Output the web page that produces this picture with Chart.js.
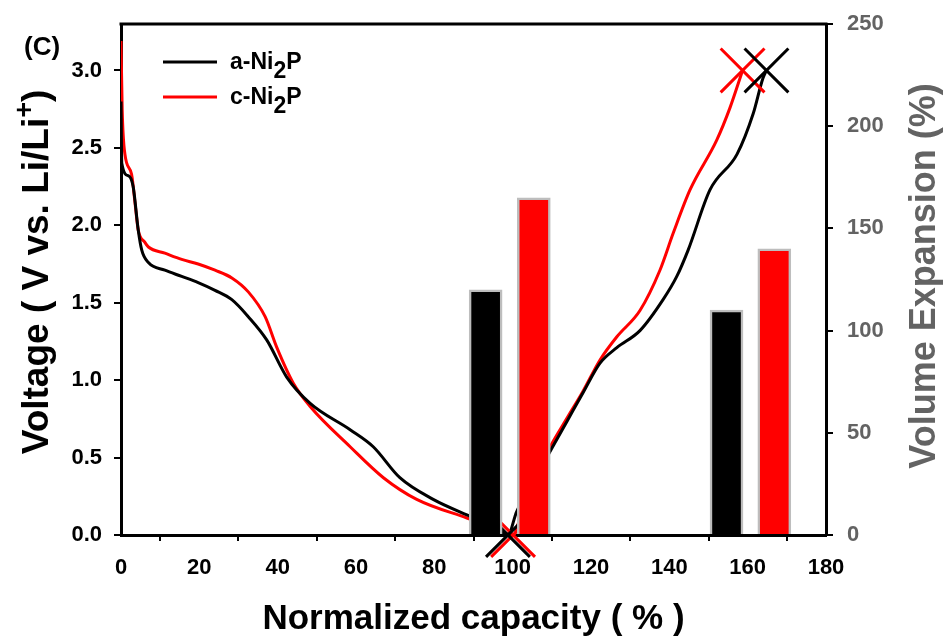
<!DOCTYPE html>
<html>
<head>
<meta charset="utf-8">
<script src="https://cdn.jsdelivr.net/npm/chart.js@4.4.0/dist/chart.umd.min.js"></script>
<style>
  body { margin: 0; background: #fff; }
  #wrap { width: 948px; height: 640px; }
</style>
</head>
<body>
<div id="wrap"><canvas id="voltageChart" width="948" height="640"></canvas></div>
<script>
// a-Ni2P : discharge then charge (normalized capacity %, voltage V)
var capA = [0, 0.2, 1.9, 3.1, 4.4, 5.3, 7, 11.2, 15.5, 19.7, 24, 28.3, 32.5, 37.2, 42.3, 48.3, 58.5, 64.4, 71.2, 79.7, 88.3, 95, 98.8,
            101, 105, 110, 114, 118, 122.3, 126.6, 132.5, 138.4, 141.9, 144.8, 150.4, 157.3, 161.4, 163.9, 164.8];
var voltA = [2.8, 2.40, 2.32, 2.25, 1.97, 1.84, 1.76, 1.71, 1.67, 1.63, 1.58, 1.52, 1.41, 1.26, 1.02, 0.85, 0.68, 0.57, 0.37, 0.23, 0.13, 0.06, 0.0,
             0.15, 0.33, 0.56, 0.74, 0.92, 1.11, 1.21, 1.32, 1.52, 1.67, 1.84, 2.23, 2.46, 2.72, 2.95, 3.0];

// c-Ni2P
var capC = [0, 0.3, 1, 2.7, 3.6, 4.4, 6.1, 7, 11.2, 15.5, 19.7, 24, 28.3, 32.5, 36.8, 39.8, 44, 48.3, 58.5, 67, 75.5, 88.3, 95, 100.1,
            102, 105, 110, 114, 118, 122.3, 126.6, 132.5, 137.6, 141, 145.3, 152.1, 155.5, 158.7];
var voltC = [3.19, 2.75, 2.46, 2.33, 2.14, 1.97, 1.89, 1.86, 1.82, 1.78, 1.75, 1.71, 1.66, 1.57, 1.41, 1.21, 0.98, 0.83, 0.57, 0.37, 0.23, 0.11, 0.05, 0.0,
             0.12, 0.35, 0.59, 0.76, 0.93, 1.13, 1.28, 1.45, 1.71, 1.95, 2.23, 2.55, 2.76, 3.0];

// end points marked with X
var endCapA = [98.8, 164.8];
var endVoltA = [0, 3.0];
var endCapC = [100.1, 158.7];
var endVoltC = [0, 3.0];

// volume expansion bars (%)
var barCapA = [93.1, 154.6];
var barExpA = [120, 110];
var barCapC = [105.4, 166.8];
var barExpC = [165, 140];

var xTicks = [0, 20, 40, 60, 80, 100, 120, 140, 160, 180];

function toPoints(xs, ys) {
    return xs.map(function (x, i) { return { x: x, y: ys[i] }; });
}

var FONT = "Arial, 'Liberation Sans', sans-serif";
var GREY = '#636363';

// rotated text reading bottom to top, centred on (cx, cy)
function drawUpText(ctx, parts, cx, cy) {
    ctx.save();
    ctx.translate(cx, cy);
    ctx.rotate(-Math.PI / 2);
    ctx.textBaseline = 'middle';
    ctx.textAlign = 'left';
    var total = 0;
    parts.forEach(function (p) { ctx.font = p.font; total += ctx.measureText(p.text).width; });
    var x = -total / 2;
    parts.forEach(function (p) {
        ctx.font = p.font;
        ctx.fillStyle = p.color;
        ctx.fillText(p.text, x, p.dy || 0);
        x += ctx.measureText(p.text).width;
    });
    ctx.restore();
}

var extrasPlugin = {
    id: 'extras',
    afterDraw: function (chart) {
        var ctx = chart.ctx;
        var area = chart.chartArea;
        ctx.save();

        // top frame line
        ctx.strokeStyle = '#000';
        ctx.lineWidth = 3;
        ctx.beginPath();
        ctx.moveTo(area.left - 1.5, area.top);
        ctx.lineTo(area.right + 1.5, area.top);
        ctx.stroke();

        // panel label
        ctx.fillStyle = '#000';
        ctx.font = 'bold 26px ' + FONT;
        ctx.textBaseline = 'alphabetic';
        ctx.textAlign = 'left';
        ctx.fillText('(C)', 24, 55);

        // legend
        var rows = [['a-Ni', '#000', 62], ['c-Ni', '#ff0000', 97]];
        rows.forEach(function (r) {
            ctx.strokeStyle = r[1];
            ctx.lineWidth = 3;
            ctx.beginPath();
            ctx.moveTo(163, r[2]);
            ctx.lineTo(217, r[2]);
            ctx.stroke();
            ctx.fillStyle = '#000';
            ctx.font = 'bold 23px ' + FONT;
            var x = 230;
            var base = r[2] + 7;
            ctx.fillText(r[0], x, base);
            x += ctx.measureText(r[0]).width;
            ctx.fillText('2', x, base + 9);
            x += ctx.measureText('2').width;
            ctx.fillText('P', x, base);
        });
        ctx.restore();

        // axis titles
        drawUpText(ctx, [
            { text: 'Voltage ( V vs. Li/Li', font: 'bold 37px ' + FONT, color: '#000' },
            { text: '+', font: 'bold 27px ' + FONT, color: '#000', dy: -12 },
            { text: ')', font: 'bold 37px ' + FONT, color: '#000' }
        ], 38, 272);
        drawUpText(ctx, [
            { text: 'Volume Expansion (%)', font: 'bold 36px ' + FONT, color: GREY }
        ], 925, 276);
    }
};

var tickFont = { family: FONT, size: 22, weight: 'bold' };

function fitSide(width) {
    return function (s) {
        s.width = width;
        s.paddingTop = 0;
        s.paddingBottom = 0;
    };
}

var ctx = document.getElementById('voltageChart').getContext('2d');
var myChart = new Chart(ctx, {
    type: 'line',
    data: {
        datasets: [
            {
                type: 'bar',
                label: 'a-Ni2P expansion',
                data: toPoints(barCapA, barExpA),
                yAxisID: 'y2',
                backgroundColor: '#000',
                borderColor: '#bdbdbd',
                borderWidth: 2.5,
                barThickness: 33,
                grouped: false,
                order: 0
            },
            {
                type: 'bar',
                label: 'c-Ni2P expansion',
                data: toPoints(barCapC, barExpC),
                yAxisID: 'y2',
                backgroundColor: '#ff0000',
                borderColor: '#bdbdbd',
                borderWidth: 2.5,
                barThickness: 33,
                grouped: false,
                order: 0
            },
            {
                type: 'scatter',
                label: 'a-Ni2P end',
                data: toPoints(endCapA, endVoltA),
                yAxisID: 'y',
                pointStyle: 'crossRot',
                pointRadius: 31,
                pointBorderWidth: 3,
                borderColor: '#000',
                backgroundColor: '#000',
                clip: false,
                order: 1
            },
            {
                type: 'scatter',
                label: 'c-Ni2P end',
                data: toPoints(endCapC, endVoltC),
                yAxisID: 'y',
                pointStyle: 'crossRot',
                pointRadius: 31,
                pointBorderWidth: 3,
                borderColor: '#ff0000',
                backgroundColor: '#ff0000',
                clip: false,
                order: 1
            },
            {
                label: 'a-Ni2P',
                data: toPoints(capA, voltA),
                yAxisID: 'y',
                borderColor: '#000',
                borderWidth: 3,
                pointRadius: 0,
                cubicInterpolationMode: 'monotone',
                order: 2
            },
            {
                label: 'c-Ni2P',
                data: toPoints(capC, voltC),
                yAxisID: 'y',
                borderColor: '#ff0000',
                borderWidth: 3,
                pointRadius: 0,
                cubicInterpolationMode: 'monotone',
                order: 2
            }
        ]
    },
    options: {
        responsive: false,
        animation: false,
        layout: { autoPadding: false, padding: { top: 24, left: 0, right: 0, bottom: 0 } },
        plugins: {
            legend: { display: false },
            tooltip: { enabled: false }
        },
        scales: {
            x: {
                type: 'linear',
                min: 0,
                max: 180,
                offset: false,
                afterFit: function (s) { s.height = 105; s.paddingLeft = 0; s.paddingRight = 0; },
                afterBuildTicks: function (s) { s.ticks = xTicks.map(function (v) { return { value: v }; }); },
                border: { display: true, color: '#000', width: 3 },
                grid: { drawOnChartArea: false, drawTicks: true, tickLength: 6, color: '#000', lineWidth: 2 },
                ticks: { color: '#000', padding: 14, font: tickFont },
                title: {
                    display: true,
                    text: 'Normalized capacity ( % )',
                    color: '#000',
                    padding: { top: 0, bottom: 0 },
                    font: { family: FONT, size: 35, weight: 'bold' }
                }
            },
            y: {
                position: 'left',
                min: 0,
                max: 3.3,
                afterFit: fitSide(121),
                afterBuildTicks: function (s) {
                    s.ticks = s.ticks.filter(function (t) { return t.value <= 3.0001; });
                },
                border: { display: true, color: '#000', width: 3 },
                grid: { drawOnChartArea: false, drawTicks: true, tickLength: 7, color: '#000', lineWidth: 2 },
                ticks: {
                    stepSize: 0.5,
                    color: '#000',
                    padding: 12,
                    font: tickFont,
                    callback: function (v) { return v.toFixed(1); }
                },
                title: { display: false }
            },
            y2: {
                position: 'right',
                min: 0,
                max: 250,
                afterFit: fitSide(122),
                border: { display: true, color: '#000', width: 3 },
                grid: { drawOnChartArea: false, drawTicks: true, tickLength: 7, color: '#000', lineWidth: 2 },
                ticks: {
                    stepSize: 50,
                    color: GREY,
                    padding: 14,
                    font: tickFont
                },
                title: { display: false }
            }
        }
    },
    plugins: [extrasPlugin]
});
</script>
</body>
</html>
